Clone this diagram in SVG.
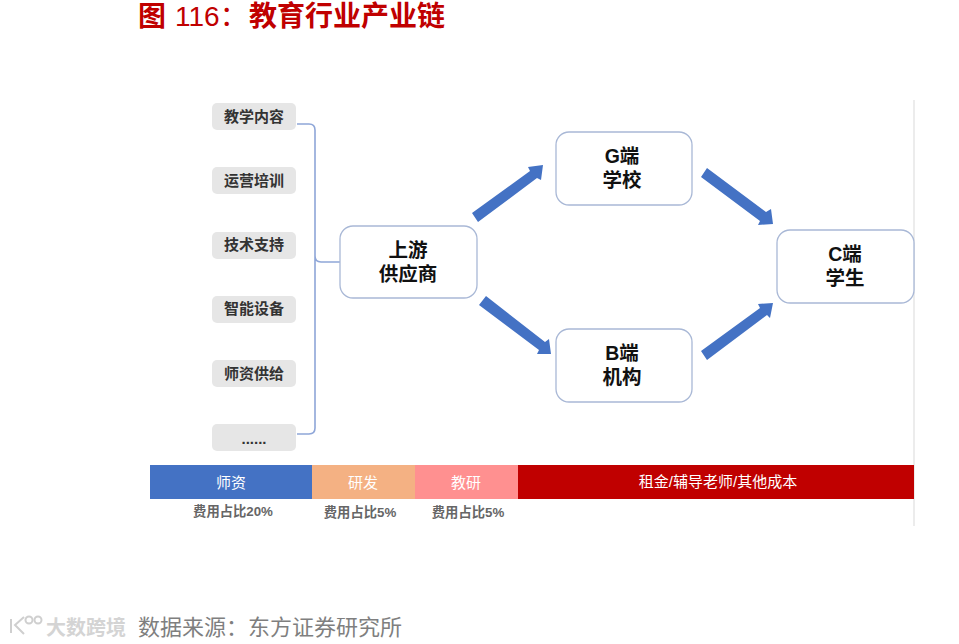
<svg xmlns="http://www.w3.org/2000/svg" width="959" height="644" viewBox="0 0 959 644">
<style>
text{font-family:"Liberation Sans","Noto Sans CJK SC",sans-serif;text-anchor:middle}
.s rect{fill:#e6e6e6}
.s text{font-size:15px;font-weight:700;fill:#333}
.n rect{fill:#fff;stroke:#a9b8d6;stroke-width:1.3}
.n text{font-size:19.5px;font-weight:700;fill:#111}
.b text{font-size:15px;fill:#fff}
.c{font-size:13.3px;fill:#666;font-weight:700}
.a{fill:#4472c4}
</style>
<rect width="959" height="644" fill="#fff"/>
<text y="26" style="font-size:28px;font-weight:700;fill:#c00000;text-anchor:start"><tspan x="138">图</tspan><tspan x="175" style="font-weight:400">116：</tspan><tspan x="249">教育行业产业链</tspan></text>
<rect x="913" y="100" width="2" height="426" fill="#ececec"/>
<g id="sources" class="s">
<g id="s1"><rect x="212" y="103" width="84" height="27" rx="5"/><text x="254" y="122">教学内容</text></g>
<g id="s2"><rect x="212" y="167" width="84" height="27" rx="5"/><text x="254" y="186">运营培训</text></g>
<g id="s3"><rect x="212" y="232" width="84" height="27" rx="5"/><text x="254" y="250">技术支持</text></g>
<g id="s4"><rect x="212" y="296" width="84" height="27" rx="5"/><text x="254" y="314">智能设备</text></g>
<g id="s5"><rect x="212" y="360" width="84" height="27" rx="5"/><text x="254" y="379">师资供给</text></g>
<g id="s6"><rect x="212" y="424" width="84" height="27" rx="5"/><text x="254" y="444">......</text></g>
</g>
<g id="connectors">
<path d="M297 124H309Q315 124 315 130V256Q315 262 321 262H340M315 256V428Q315 434 309 434H297" fill="none" stroke="#8ea6d8" stroke-width="1.6"/>
<path class="a" d="M472 213L530 171L528 167L543 165L541 180L537 178L478 222Z"/>
<path class="a" d="M707 168L766 212L771 209L773 224L758 225L760 221L701 177Z"/>
<path class="a" d="M486 296L545 342L549 339L551 354L537 354L539 350L479 305Z"/>
<path class="a" d="M701 351L760 308L758 304L773 303L770 318L767 315L707 360Z"/>
</g>
<g id="upstream" class="n"><rect x="340" y="226" width="137" height="72" rx="13"/><text x="408" y="257">上游</text><text x="408" y="281">供应商</text></g>
<g id="g" class="n"><rect x="556" y="132" width="136" height="73" rx="13"/><text x="622" y="163">G端</text><text x="622" y="187">学校</text></g>
<g id="b" class="n"><rect x="556" y="329" width="136" height="73" rx="13"/><text x="622" y="360">B端</text><text x="622" y="384">机构</text></g>
<g id="c" class="n"><rect x="777" y="230" width="137" height="73" rx="13"/><text x="845" y="261">C端</text><text x="845" y="285">学生</text></g>
<g id="bar" class="b">
<g id="b1"><rect x="150" y="465" width="162" height="34" fill="#4472c4"/><text x="231" y="488">师资</text></g>
<g id="b2"><rect x="312" y="465" width="103" height="34" fill="#f4b183"/><text x="363" y="488">研发</text></g>
<g id="b3"><rect x="415" y="465" width="103" height="34" fill="#ff9090"/><text x="466" y="488">教研</text></g>
<g id="b4"><rect x="518" y="465" width="396" height="34" fill="#c00000"/><text x="718" y="487">租金/辅导老师/其他成本</text></g>
</g>
<text class="c" x="233" y="516">费用占比20%</text>
<text class="c" x="360" y="517">费用占比5%</text>
<text class="c" x="468" y="517">费用占比5%</text>
<g id="watermark" fill="none" stroke="#cfcfcf" stroke-width="2">
<path d="M11 619V633M24 617L15 625L24 634"/><circle cx="29" cy="620" r="3.5"/><circle cx="38" cy="620" r="3.5"/>
</g>
<text x="86" y="635" style="font-size:20px;fill:#d4d4d4;font-weight:700">大数跨境</text>
<text x="270" y="635" style="font-size:22px;fill:#7f7f7f">数据来源：东方证券研究所</text>
</svg>
